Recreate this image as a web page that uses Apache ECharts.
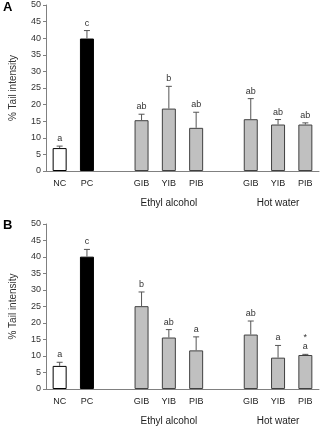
<!DOCTYPE html>
<html>
<head>
<meta charset="utf-8">
<script src="https://cdn.jsdelivr.net/npm/echarts@6/dist/echarts.min.js"></script>
<style>
  html, body { margin: 0; padding: 0; background: #fff; }
  #chart { width: 321px; height: 428px; }
</style>
</head>
<body>
<div id="chart"></div>
<script>
// categories (blank slots separate the groups)
const categories = ['NC', 'PC', '', 'GIB', 'YIB', 'PIB', '', 'GIB', 'YIB', 'PIB']
const groupNames = ['', '', '', '', 'Ethyl alcohol', '', '', '', 'Hot water', '']

// panel A
const meanA = [6.9, 39.9, null, 15.3, 18.8, 13.0, null, 15.6, 14.0, 14.0]
const errA = [0.6, 2.4, null, 1.8, 6.7, 4.7, null, 6.2, 1.5, 0.5]
const letterA = ['a', 'c', '', 'ab', 'b', 'ab', '', 'ab', 'ab', 'ab']

// panel B
const meanB = [7.0, 40.1, null, 25.1, 15.6, 11.7, null, 16.5, 9.5, 10.3]
const errB = [1.1, 2.2, null, 4.3, 2.4, 4.1, null, 4.1, 3.7, 0.2]
const letterB = ['a', 'c', '', 'b', 'ab', 'a', '', 'ab', 'a', '*\na']

const fills = ['#ffffff', '#000000', '#c0c0c0', '#c0c0c0', '#c0c0c0', '#c0c0c0', '#c0c0c0', '#c0c0c0', '#c0c0c0', '#c0c0c0']

const font = 'Liberation Sans, Arial, sans-serif'

function barData(means) {
  return means.map((v, i) => ({
    value: v,
    itemStyle: {
      color: fills[i],
      borderColor: i < 2 ? '#000' : '#404040',
      borderWidth: 1
    }
  }))
}

function errData(means, errs, letters) {
  return means.map((v, i) => [i, v, errs[i], letters[i]]).filter(d => d[1] != null)
}

function renderErr(params, api) {
  const i = api.value(0)
  const m = api.value(1)
  const e = api.value(2)
  const letter = api.value(3)
  const p0 = api.coord([i, m])
  const p1 = api.coord([i, m + e])
  const capW = 3
  return {
    type: 'group',
    children: [
      { type: 'line', shape: { x1: p0[0], y1: p0[1], x2: p1[0], y2: p1[1] }, style: { stroke: '#555', lineWidth: 1 } },
      { type: 'line', shape: { x1: p1[0] - capW, y1: p1[1], x2: p1[0] + capW, y2: p1[1] }, style: { stroke: '#555', lineWidth: 1 } },
      {
        type: 'text',
        style: {
          text: letter, x: p1[0], y: p1[1] - 3,
          align: 'center', verticalAlign: 'bottom',
          fontSize: 9, fontFamily: font, fill: '#333', lineHeight: 9
        }
      }
    ]
  }
}

function yAxis(gridIndex) {
  return {
    gridIndex,
    type: 'value',
    min: 0,
    max: 50,
    interval: 5,
    name: '% Tail intensity',
    nameLocation: 'middle',
    nameRotate: 90,
    nameGap: 28,
    nameTextStyle: { fontSize: 10, fontFamily: font, color: '#333' },
    axisLine: { show: true, lineStyle: { color: '#808080' } },
    axisTick: { show: true, length: 3, lineStyle: { color: '#808080' } },
    axisLabel: { fontSize: 9, fontFamily: font, color: '#333', margin: 5 },
    splitLine: { show: false }
  }
}

function xAxes(gridIndex) {
  return [
    {
      gridIndex,
      type: 'category',
      data: categories,
      axisLine: { lineStyle: { color: '#808080' } },
      axisTick: { show: false },
      axisLabel: { interval: 0, fontSize: 9, fontFamily: font, color: '#222', margin: 8 }
    },
    {
      gridIndex,
      type: 'category',
      position: 'bottom',
      offset: 19,
      data: groupNames,
      axisLine: { show: false },
      axisTick: { show: false },
      axisLabel: { interval: 0, fontSize: 10, fontFamily: font, color: '#222', margin: 8 }
    }
  ]
}

const chart = echarts.init(document.getElementById('chart'))
chart.setOption({
  animation: false,
  grid: [
    { left: 43, right: 2, top: 5, height: 166 },
    { left: 43, right: 2, top: 224, height: 165 }
  ],
  graphic: [
    { type: 'text', left: 3, top: 1, style: { text: 'A', fontSize: 13, fontWeight: 'bold', fontFamily: font, fill: '#000' } },
    { type: 'text', left: 3, top: 219, style: { text: 'B', fontSize: 13, fontWeight: 'bold', fontFamily: font, fill: '#000' } }
  ],
  xAxis: [...xAxes(0), ...xAxes(1)],
  yAxis: [yAxis(0), yAxis(1)],
  series: [
    { type: 'bar', xAxisIndex: 0, yAxisIndex: 0, barWidth: 14, data: barData(meanA) },
    { type: 'custom', xAxisIndex: 0, yAxisIndex: 0, renderItem: renderErr, data: errData(meanA, errA, letterA), z: 5 },
    { type: 'bar', xAxisIndex: 2, yAxisIndex: 1, barWidth: 14, data: barData(meanB) },
    { type: 'custom', xAxisIndex: 2, yAxisIndex: 1, renderItem: renderErr, data: errData(meanB, errB, letterB), z: 5 }
  ]
})
</script>
</body>
</html>
